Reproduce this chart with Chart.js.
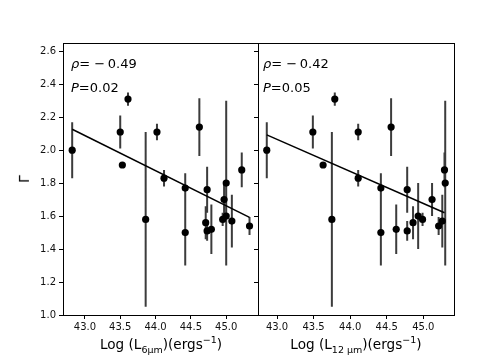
<!DOCTYPE html>
<html>
<head>
<meta charset="utf-8">
<script src="https://cdn.jsdelivr.net/npm/chart.js@4.4.1/dist/chart.umd.min.js"></script>
<style>
  body { margin: 0; width: 504px; height: 360px; background: #fff; position: relative; overflow: hidden;
         font-family: "DejaVu Sans", sans-serif; color: #000; }
  canvas { position: absolute; left: 0; top: 0; }
  .txt { position: absolute; font-size: 13px; line-height: 16px; white-space: nowrap; }
  .xt { position: absolute; top: 336px; width: 196px; text-align: center; font-size: 13.6px; line-height: 16px; white-space: nowrap; }
  sub, sup { font-size: 9.5px; line-height: 0; }
  #ylab { position: absolute; left: 20px; top: 172px; font-size: 14px; line-height: 14px; transform: rotate(-90deg); }
</style>
</head>
<body>
<canvas id="c6" width="504" height="360"></canvas>
<canvas id="c12" width="504" height="360"></canvas>

<div class="txt" style="left:71px; top:56px;"><i>ρ</i>= −&thinsp;0.49</div>
<div class="txt" style="left:71px; top:80px;"><i>P</i>=0.02</div>
<div class="txt" style="left:263px; top:56px;"><i>ρ</i>= −&thinsp;0.42</div>
<div class="txt" style="left:263px; top:80px;"><i>P</i>=0.05</div>
<div class="xt" style="left:63px;">Log (L<sub>6μm</sub>)(ergs<sup>−1</sup>)</div>
<div class="xt" style="left:258px;">Log (L<sub>12 μm</sub>)(ergs<sup>−1</sup>)</div>
<div id="ylab">Γ</div>

<script>
// Data
const gamma    = [2.00, 2.11, 2.31, 1.91, 2.11, 1.58, 1.83, 2.14, 1.77, 1.50, 1.76, 1.56, 1.51, 1.52, 1.70, 1.80, 1.60, 1.58, 1.57, 1.88, 1.54];
const gammaErr = [0.17, 0.10, 0.04, 0.00, 0.05, 0.53, 0.05, 0.175, 0.09, 0.20, 0.14, 0.10, 0.06, 0.15, 0.10, 0.50, 0.20, 0.04, 0.16, 0.105, 0.055];
const logL6    = [42.82, 43.50, 43.61, 43.53, 44.02, 43.86, 44.12, 44.62, 44.42, 44.42, 44.73, 44.71, 44.73, 44.79, 44.97, 45.00, 45.00, 44.95, 45.08, 45.22, 45.33];
const logL12   = [42.86, 43.49, 43.79, 43.63, 44.11, 43.75, 44.11, 44.56, 44.42, 44.42, 44.78, 44.86, 44.78, 44.63, 45.12, 45.30, 44.93, 44.99, 45.26, 45.29, 45.21];

// fitted lines (end points)
const fit6X  = [42.82, 45.33];
const fit6Y  = [2.127, 1.592];
const fit12X = [42.86, 45.29];
const fit12Y = [2.093, 1.620];

const xTicks = [43.0, 43.5, 44.0, 44.5, 45.0];
const yTicks = [1.0, 1.2, 1.4, 1.6, 1.8, 2.0, 2.2, 2.4, 2.6];

// box around each panel
const frame = {
    id: 'frame',
    afterDraw(chart) {
        const { ctx, chartArea: a } = chart;
        ctx.save();
        ctx.strokeStyle = '#000';
        ctx.lineWidth = 1;
        ctx.strokeRect(a.left + 0.5, a.top + 0.5, a.right - a.left, a.bottom - a.top);
        ctx.restore();
    }
};

function makePanel(id, xs, fitX, fitY, xMin, xMax, padLeft, padRight, showYLabels) {
    const pts = xs.map((x, i) => ({ x: x, y: gamma[i] }));
    const bars = [];
    xs.forEach((x, i) => {
        bars.push({ x: x, y: gamma[i] - gammaErr[i] });
        bars.push({ x: x, y: gamma[i] + gammaErr[i] });
        bars.push({ x: x, y: null });
    });
    const fit = fitX.map((x, i) => ({ x: x, y: fitY[i] }));

    return new Chart(document.getElementById(id), {
        type: 'scatter',
        data: {
            datasets: [
                { data: pts, backgroundColor: '#000', borderWidth: 0, pointRadius: 3.6, order: 0 },
                { data: fit, showLine: true, borderColor: '#000', borderWidth: 1.5, pointRadius: 0, order: 1 },
                { data: bars, showLine: true, spanGaps: false, borderColor: '#3c3c3c', borderWidth: 2,
                  borderCapStyle: 'butt', pointRadius: 0, order: 2 }
            ]
        },
        options: {
            responsive: false,
            animation: false,
            layout: { padding: { left: padLeft, right: padRight, top: 43, bottom: 0 } },
            plugins: { legend: { display: false }, tooltip: { enabled: false } },
            scales: {
                x: {
                    type: 'linear', min: xMin, max: xMax,
                    afterBuildTicks: s => { s.ticks = xTicks.map(v => ({ value: v })); },
                    afterFit: s => { s.height = 45; },
                    border: { display: false },
                    grid: { drawOnChartArea: false, drawTicks: true, tickLength: 4, tickColor: '#000' },
                    ticks: { autoSkip: false, maxRotation: 0, padding: 2, color: '#111',
                             font: { family: 'DejaVu Sans', size: 10 },
                             callback: v => v.toFixed(1) }
                },
                y: {
                    type: 'linear', min: 1.0, max: 2.65,
                    afterBuildTicks: s => { s.ticks = yTicks.map(v => ({ value: v })); },
                    afterFit: s => { s.width = showYLabels ? 63 : 0; },
                    border: { display: false },
                    grid: { drawOnChartArea: false, drawTicks: true, tickLength: 4, tickColor: '#000' },
                    ticks: { display: showYLabels, padding: 3, color: '#111',
                             font: { family: 'DejaVu Sans', size: 10 },
                             callback: v => v.toFixed(1) }
                }
            }
        },
        plugins: [frame]
    });
}

makePanel('c6', logL6, fit6X, fit6Y, 42.69, 45.45, 0, 246, true);
makePanel('c12', logL12, fit12X, fit12Y, 42.74, 45.42, 258, 50, false);
</script>
</body>
</html>
